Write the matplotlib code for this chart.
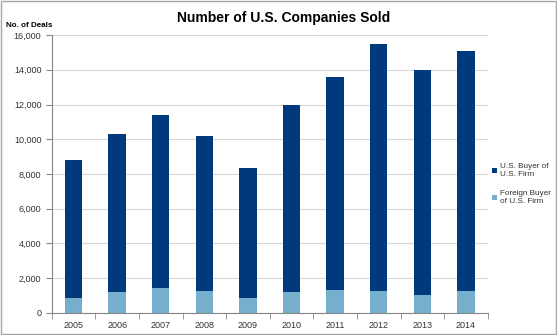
import numpy as np
import matplotlib
matplotlib.use("Agg")
from matplotlib import pyplot as plt
from matplotlib.patches import Rectangle

# данные
years = ["2005", "2006", "2007", "2008", "2009", "2010", "2011", "2012", "2013", "2014"]
total = [8800, 10280, 11380, 10160, 8320, 12000, 13600, 15500, 14000, 15100]
foreign = [890, 1180, 1460, 1280, 890, 1180, 1350, 1280, 1040, 1280]
us_buyer = [t - f for t, f in zip(total, foreign)]

DARK = "#003A7D"
LIGHT = "#75AFCD"

plt.rcParams["font.family"] = ["Liberation Sans", "DejaVu Sans"]

fig = plt.figure(figsize=(5.57, 3.35), dpi=100)
ax = fig.add_axes([0.093, 0.0657, 0.7826, 0.8298])

x = np.arange(len(years))
ax.bar(x, foreign, width=0.4, color=LIGHT, label="Foreign Buyer\nof U.S. Firm")
ax.bar(x, us_buyer, width=0.4, bottom=foreign, color=DARK, label="U.S. Buyer of\nU.S. Firm")

ax.set_xlim(-0.5, len(years) - 0.5)
ax.set_ylim(0, 16000)
ax.set_yticks(np.arange(0, 16001, 2000))
ax.set_yticklabels([f"{v:,}" for v in range(0, 16001, 2000)])
ax.set_xticks(x)
ax.set_xticklabels(years)
ax.set_xticks(np.arange(-0.5, len(years), 1), minor=True)

ax.grid(axis="y", color="#D9D9D9", linewidth=0.8)
ax.set_axisbelow(True)
for s in ["top", "right"]:
    ax.spines[s].set_visible(False)
ax.spines["left"].set_color("#868686")
ax.spines["bottom"].set_color("#868686")
ax.tick_params(axis="x", which="major", length=0, labelsize=6.5, colors="#333333", pad=6)
ax.tick_params(axis="x", which="minor", length=4, color="#868686")
ax.tick_params(axis="y", length=4, color="#868686", labelsize=6.5, labelcolor="#333333")

fig.text(0.51, 0.945, "Number of U.S. Companies Sold", ha="center", va="center",
         fontsize=10, fontweight="bold")
fig.text(0.01, 0.925, "No. of Deals", ha="left", va="center", fontsize=5.8, fontweight="bold")

handles, labels = ax.get_legend_handles_labels()
leg = fig.legend(handles[::-1], labels[::-1], loc="center left", bbox_to_anchor=(0.884, 0.45),
                 frameon=False, fontsize=5.9, handlelength=0.6, handleheight=0.6,
                 handletextpad=0.3, labelspacing=1.5, labelcolor="#333333",
                 borderpad=0, borderaxespad=0)

fig.patches.append(Rectangle((0.001, 0.002), 0.997, 0.995, transform=fig.transFigure,
                             fill=False, edgecolor="#A6A6A6", linewidth=1))

fig.savefig("out.png", dpi=100)
